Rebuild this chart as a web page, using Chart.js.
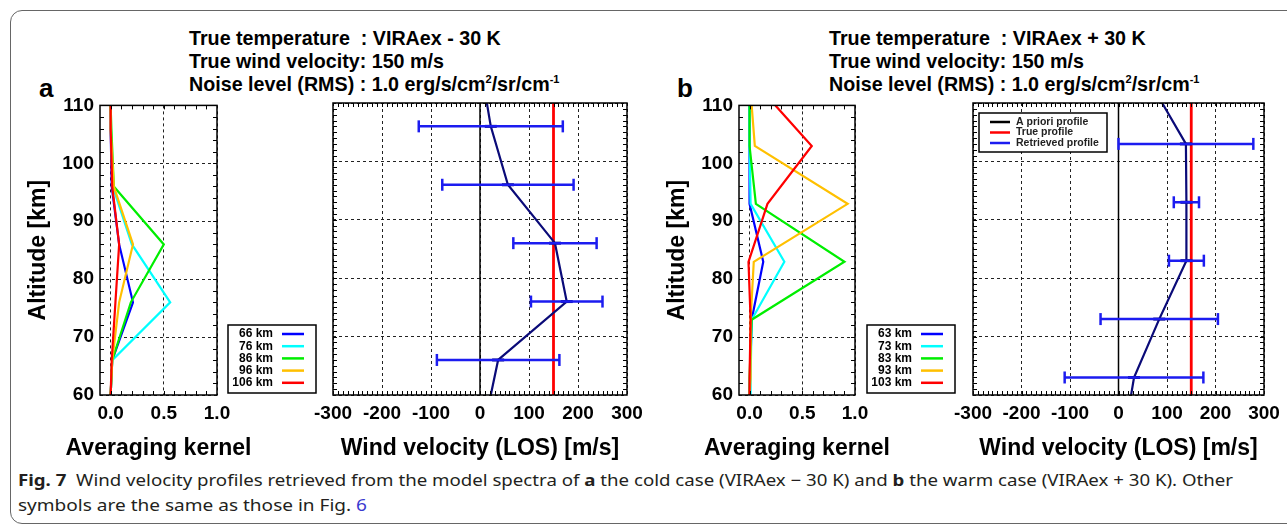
<!DOCTYPE html>
<html>
<head>
<meta charset="utf-8">
<script src="https://cdn.jsdelivr.net/npm/chart.js@4.4.1/dist/chart.umd.min.js"></script>
<style>
  body { margin: 0; background: #fff; }
  #page { position: relative; width: 1287px; height: 531px; overflow: hidden; font-family: "Liberation Sans", Arial, sans-serif; }
  #frame { position: absolute; left: 10px; top: 10px; width: 1300px; height: 514px; border: 1.5px solid #666; border-radius: 12px; box-sizing: border-box; }
  .head { position: absolute; top: 27px; font-weight: bold; font-size: 19.7px; line-height: 23px; white-space: pre; color: #000; }
  .head sup { font-size: 11px; position: relative; top: -8px; vertical-align: baseline; line-height: 0; }
  .tag { position: absolute; top: 75px; font-weight: bold; font-size: 26px; line-height: 26px; }
  canvas { position: absolute; top: 88px; }
  #caption { position: absolute; left: 18px; top: 467px; font-family: "Noto Sans", sans-serif; font-size: 16.5px; line-height: 25px; color: #231f20; white-space: nowrap; }
  .capline { display: inline-block; transform-origin: 0 0; }
  .capline b { font-weight: bold; }
  .link { color: #3a3acf; }
</style>
</head>
<body>
<div id="page">
  <div id="frame"></div>

  <div class="tag" style="left:39px">a</div>
  <div class="tag" style="left:677px">b</div>

  <div class="head" style="left:189px">True temperature  : VIRAex - 30 K
True wind velocity: 150 m/s
Noise level (RMS) : 1.0 erg/s/cm<sup>2</sup>/sr/cm<sup>-1</sup></div>
  <div class="head" style="left:829px">True temperature  : VIRAex + 30 K
True wind velocity: 150 m/s
Noise level (RMS) : 1.0 erg/s/cm<sup>2</sup>/sr/cm<sup>-1</sup></div>

  <canvas id="kernelA" width="310" height="377" style="left:20px"></canvas>
  <canvas id="windA" width="355" height="377" style="left:300px"></canvas>
  <canvas id="kernelB" width="310" height="377" style="left:659px"></canvas>
  <canvas id="windB" width="347" height="377" style="left:940px"></canvas>

  <div id="caption">
    <span class="capline" data-width="1215"><b>Fig. 7</b>&nbsp; Wind velocity profiles retrieved from the model spectra of <b>a</b> the cold case (VIRAex − 30 K) and <b>b</b> the warm case (VIRAex + 30 K). Other</span><br>
    <span class="capline" data-width="349">symbols are the same as those in Fig. <span class="link">6</span></span>
  </div>
</div>

<script>
// cold case (a): retrieval levels and averaging kernels
const levelsA = [60, 66, 76, 86, 96, 106, 110];
const kernelNamesA = ['66 km', '76 km', '86 km', '96 km', '106 km'];
const kernelA66 = [0.0, 0.015, 0.21, 0.08, 0.01, 0.0, 0.0];
const kernelA76 = [0.0, 0.015, 0.56, 0.20, 0.02, 0.0, 0.0];
const kernelA86 = [0.0, 0.015, 0.19, 0.50, 0.03, 0.007, 0.0];
const kernelA96 = [0.0, 0.015, 0.08, 0.21, 0.03, 0.0, 0.0];
const kernelA106 = [0.0, 0.01, 0.045, 0.08, 0.015, 0.0, 0.0];
const retrievedA = [22, 37, 177, 153, 57, 22, 14];
const barLevelsA = [66, 76, 86, 96, 106];
const barCentreA = [37, 177, 153, 57, 22];
const barErrorA = [125, 73, 85, 134, 147];

// warm case (b)
const levelsB = [60, 63, 73, 83, 93, 103, 110];
const kernelNamesB = ['63 km', '73 km', '83 km', '93 km', '103 km'];
const kernelB63 = [0.0, 0.005, 0.02, 0.13, 0.0, 0.0, 0.0];
const kernelB73 = [0.01, 0.01, 0.02, 0.33, 0.01, 0.0, 0.0];
const kernelB83 = [0.0, 0.0, 0.02, 0.90, 0.06, 0.0, 0.0];
const kernelB93 = [0.0, 0.01, 0.01, 0.04, 0.93, 0.05, 0.02];
const kernelB103 = [0.0, 0.0, 0.01, -0.01, 0.17, 0.59, 0.245];
const retrievedB = [26, 32, 84, 140, 140, 139, 90];
const barLevelsB = [63, 73, 83, 93, 103];
const barCentreB = [32, 84, 140, 140, 139];
const barErrorB = [143, 121, 36, 26, 139];

// a priori and true wind profiles, given at the top and bottom of the grid
const profileEnds = [60, 110];
const aprioriProfile = [0, 0];
const trueProfile = [150, 150];

const kernelTicks = [0.0, 0.5, 1.0];
const windTicks = [-300, -200, -100, 0, 100, 200, 300];
const altitudeTicks = [60, 70, 80, 90, 100, 110];

const kernelColours = ['#0000ff', '#00ffff', '#00ee00', '#ffc000', '#ff0000'];
const FONT = '"Liberation Sans", Arial, sans-serif';

Chart.defaults.font.family = FONT;
Chart.defaults.color = '#000';

const toPoints = (xs, ys) => xs.map((v, i) => ({ x: v, y: ys[i] }));

// one dataset holding every error bar, broken by null points
const errorBars = (levels, centre, err) => {
  const pts = [];
  levels.forEach((lev, i) => {
    pts.push({ x: centre[i] - err[i], y: lev }, { x: centre[i] + err[i], y: lev }, { x: null, y: null });
  });
  return pts;
};

// frame and inward minor ticks on all four sides
const frameTicks = {
  id: 'frameTicks',
  afterDatasetsDraw(chart, args, opts) {
    const { ctx, chartArea: area, scales: { x, y } } = chart;
    ctx.save();
    ctx.strokeStyle = '#000';
    ctx.lineWidth = 1;
    ctx.beginPath();
    const nx = Math.round((x.max - x.min) / opts.xStep);
    for (let i = 1; i < nx; i++) {
      const px = Math.round(x.getPixelForValue(x.min + i * opts.xStep)) + 0.5;
      ctx.moveTo(px, area.top); ctx.lineTo(px, area.top + opts.len);
      ctx.moveTo(px, area.bottom); ctx.lineTo(px, area.bottom - opts.len);
    }
    const ny = Math.round((y.max - y.min) / opts.yStep);
    for (let i = 1; i < ny; i++) {
      const py = Math.round(y.getPixelForValue(y.min + i * opts.yStep)) + 0.5;
      ctx.moveTo(area.left, py); ctx.lineTo(area.left + opts.len, py);
      ctx.moveTo(area.right, py); ctx.lineTo(area.right - opts.len, py);
    }
    ctx.stroke();
    ctx.lineWidth = 1.5;
    ctx.strokeRect(area.left, area.top, area.right - area.left, area.bottom - area.top);
    ctx.restore();
  }
};

// x axis title, centred under the plot area at a fixed baseline
const bottomTitle = {
  id: 'bottomTitle',
  afterDraw(chart, args, opts) {
    const { ctx, chartArea: area } = chart;
    ctx.save();
    ctx.font = 'bold 23px ' + FONT;
    ctx.fillStyle = '#000';
    ctx.textAlign = 'center';
    ctx.textBaseline = 'alphabetic';
    ctx.fillText(opts.text, (area.left + area.right) / 2, area.bottom + opts.offset);
    ctx.restore();
  }
};

// boxed legend built from the labelled datasets
const boxLegend = {
  id: 'boxLegend',
  afterDraw(chart, args, opts) {
    if (!opts.boxW) return;
    const { ctx } = chart;
    const items = chart.data.datasets.filter(d => d.label);
    ctx.save();
    ctx.fillStyle = '#fff';
    ctx.fillRect(opts.boxX, opts.boxY, opts.boxW, opts.boxH);
    ctx.strokeStyle = '#000';
    ctx.lineWidth = 1.5;
    ctx.strokeRect(opts.boxX, opts.boxY, opts.boxW, opts.boxH);
    ctx.font = opts.labelFont;
    ctx.textBaseline = 'middle';
    ctx.textAlign = opts.align;
    items.forEach((d, i) => {
      const yy = opts.boxY + opts.first + i * opts.gap;
      ctx.strokeStyle = d.borderColor;
      ctx.lineWidth = opts.lineWidth;
      ctx.beginPath();
      ctx.moveTo(opts.boxX + opts.lineFrom, yy);
      ctx.lineTo(opts.boxX + opts.lineTo, yy);
      ctx.stroke();
      ctx.fillStyle = opts.textColour;
      ctx.fillText(d.label, opts.boxX + opts.textX, yy);
    });
    ctx.restore();
  }
};

const gridStyle = { color: '#222', lineWidth: 1, drawTicks: false };
const borderStyle = { display: false, dash: [3, 3] };
const tickFont = { size: 19, weight: 'bold' };
const titleFont = { size: 23, weight: 'bold' };

const makeScales = (xMin, xMax, xTicks, xFmt, showY) => ({
  x: {
    type: 'linear', min: xMin, max: xMax,
    afterBuildTicks: s => { s.ticks = xTicks.map(v => ({ value: v })); },
    afterFit: s => { s.height = 70; },
    grid: gridStyle, border: borderStyle,
    ticks: { font: tickFont, padding: 7, maxRotation: 0, autoSkip: false, callback: xFmt }
  },
  y: {
    type: 'linear', min: 60, max: 110,
    afterBuildTicks: s => { s.ticks = altitudeTicks.map(v => ({ value: v })); },
    afterFit: s => { s.width = showY ? 80 : 33; },
    grid: gridStyle, border: borderStyle,
    ticks: { display: showY, font: tickFont, padding: 6 },
    title: { display: showY, text: 'Altitude [km]', font: titleFont, padding: { top: 5, bottom: 0 } }
  }
});

const kernelLegend = {
  boxX: 208, boxY: 237, boxW: 88, boxH: 68, first: 9, gap: 12.2,
  lineFrom: 54, lineTo: 76, textX: 45, align: 'right', lineWidth: 2.5,
  labelFont: 'bold 12px ' + FONT, textColour: '#000'
};

const kernelChart = (id, levels, names, rows, padRight) => new Chart(document.getElementById(id), {
  type: 'scatter',
  data: {
    datasets: rows.map((row, i) => ({
      label: names[i],
      data: toPoints(row, levels),
      showLine: true,
      borderColor: kernelColours[i],
      borderWidth: 2.2,
      pointRadius: 0,
      order: rows.length - i
    }))
  },
  options: {
    responsive: false,
    animation: false,
    layout: { padding: { top: 15, right: padRight, left: 0, bottom: 0 } },
    scales: makeScales(-0.1, 1.0, kernelTicks, v => v.toFixed(1), true),
    plugins: {
      legend: { display: false },
      tooltip: { enabled: false },
      frameTicks: { xStep: 0.1, yStep: 2, len: 4 },
      bottomTitle: { text: 'Averaging kernel', offset: 60 },
      boxLegend: kernelLegend
    }
  },
  plugins: [frameTicks, bottomTitle, boxLegend]
});

const windChart = (id, levels, retrieved, barLevels, barCentre, barError, padRight, legend) => new Chart(document.getElementById(id), {
  type: 'scatter',
  data: {
    datasets: [
      {
        label: 'A priori profile',
        data: toPoints(aprioriProfile, profileEnds),
        showLine: true, borderColor: '#000', borderWidth: 1.5, pointRadius: 0, order: 4
      },
      {
        label: 'True profile',
        data: toPoints(trueProfile, profileEnds),
        showLine: true, borderColor: '#ff0000', borderWidth: 2.8, pointRadius: 0, order: 3
      },
      {
        data: toPoints(retrieved, levels),
        showLine: true, borderColor: '#0a0a78', borderWidth: 2.2,
        pointStyle: 'line', pointBorderColor: '#0a0a78', pointBorderWidth: 3,
        pointRadius: c => (c.dataIndex === 0 || c.dataIndex === levels.length - 1) ? 0 : 6,
        order: 2
      },
      {
        label: 'Retrieved profile',
        data: errorBars(barLevels, barCentre, barError),
        showLine: true, borderColor: '#1c1cf0', borderWidth: 2.5,
        pointStyle: 'line', pointRotation: 90, pointRadius: 6,
        pointBorderColor: '#1c1cf0', pointBorderWidth: 2.5,
        order: 1
      }
    ]
  },
  options: {
    responsive: false,
    animation: false,
    layout: { padding: { top: 15, right: padRight, left: 0, bottom: 0 } },
    scales: makeScales(-300, 300, windTicks, v => String(v), false),
    plugins: {
      legend: { display: false },
      tooltip: { enabled: false },
      frameTicks: { xStep: 10, yStep: 1, len: 4 },
      bottomTitle: { text: 'Wind velocity (LOS) [m/s]', offset: 60 },
      boxLegend: legend || {}
    }
  },
  plugins: [frameTicks, bottomTitle, boxLegend]
});

kernelChart('kernelA', levelsA, kernelNamesA, [kernelA66, kernelA76, kernelA86, kernelA96, kernelA106], 113);
windChart('windA', levelsA, retrievedA, barLevelsA, barCentreA, barErrorA, 28);
kernelChart('kernelB', levelsB, kernelNamesB, [kernelB63, kernelB73, kernelB83, kernelB93, kernelB103], 114);
windChart('windB', levelsB, retrievedB, barLevelsB, barCentreB, barErrorB, 23, {
  boxX: 39, boxY: 25, boxW: 128, boxH: 39, first: 9, gap: 10.5,
  lineFrom: 11, lineTo: 31, textX: 37, align: 'left', lineWidth: 2.5,
  labelFont: 'bold 10.5px ' + FONT, textColour: '#222'
});

// fit each caption line to the column width
document.querySelectorAll('.capline').forEach(el => {
  const w = el.getBoundingClientRect().width;
  el.style.transform = `scaleX(${Number(el.dataset.width) / w})`;
});
</script>
</body>
</html>
